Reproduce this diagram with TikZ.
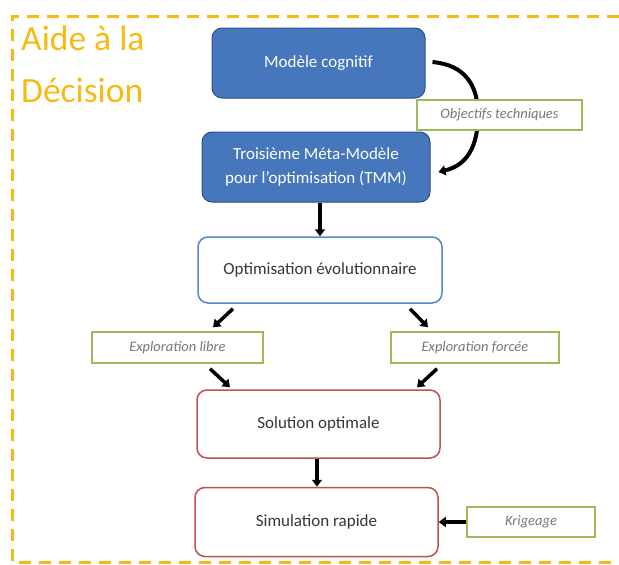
\documentclass[tikz,border=0pt]{standalone}
\usepackage{fontspec}
\setmainfont{Carlito}
\usetikzlibrary{arrows.meta}
\definecolor{orangeB}{RGB}{247,186,20}
\definecolor{blueF}{RGB}{70,118,188}
\definecolor{blueD}{RGB}{45,80,140}
\definecolor{blueL}{RGB}{84,134,204}
\definecolor{redB}{RGB}{192,80,77}
\definecolor{greenB}{RGB}{155,187,89}
\definecolor{txt}{RGB}{55,55,55}
\definecolor{itxt}{RGB}{120,120,120}
\tikzset{
  bluebox/.style={draw=blueD, line width=1pt, fill=blueF, rounded corners=10pt, text=white, align=center, font=\fontsize{17}{24}\selectfont, inner sep=0pt},
  optbox/.style={draw=blueL, line width=1.5pt, fill=white, rounded corners=10pt, text=txt, font=\fontsize{17}{24}\selectfont, inner sep=0pt},
  redbox/.style={draw=redB, line width=1.5pt, fill=white, rounded corners=10pt, text=txt, font=\fontsize{17}{24}\selectfont, inner sep=0pt},
  tagbox/.style={draw=greenB, line width=1.5pt, fill=white, text=itxt, font=\fontsize{14.5}{16}\selectfont\itshape, inner sep=0pt},
  arr/.style={line width=3.5pt, -{Triangle[width=10pt,length=7pt]}},
  title/.style={text=orangeB, font=\fontsize{35.5}{40}\selectfont, anchor=base west, inner sep=0pt}
}
\begin{document}
\begin{tikzpicture}[x=1pt,y=-1pt]
\useasboundingbox (0,0) rectangle (619,565);
\draw[orangeB, line width=3pt, dash pattern=on 12pt off 8pt] (619,16) -- (12,16) -- (12,562) -- (619,562);
\node[title] (t1) at (21,50) {Aide à la};
\node[title] (t2) at (21,102) {Décision};

\node[bluebox, minimum width=213pt, minimum height=70pt] (mc) at (318.5,63) {Modèle cognitif};
\node[bluebox, minimum width=228pt, minimum height=70pt] (tmm) at (316,167) {Troisième Méta-Modèle\\pour l’optimisation (TMM)};
\draw[arr, line width=4pt] ([shift={(7,-1)}]mc.east) .. controls (465,65) and (478,85) .. (478,115) .. controls (478,145) and (468,165) .. ([shift={(8,5)}]tmm.east);
\node[tagbox, minimum width=165pt, minimum height=30pt] (obj) at (499.5,115) {Objectifs techniques};

\node[optbox, minimum width=244pt, minimum height=66pt] (opt) at (320,270) {Optimisation évolutionnaire};
\node[tagbox, minimum width=171pt, minimum height=31pt] (el) at (177.5,347.5) {Exploration libre};
\node[tagbox, minimum width=168pt, minimum height=31pt] (ef) at (475,347.5) {Exploration forcée};
\node[redbox, minimum width=243pt, minimum height=68pt] (sol) at (318.5,424) {Solution optimale};
\node[redbox, minimum width=243pt, minimum height=69pt] (sim) at (316.5,522) {Simulation rapide};
\node[tagbox, minimum width=128pt, minimum height=30pt] (kr) at (531,522) {Krigeage};

\draw[arr] (opt.north |- tmm.south) -- (opt.north);
\draw[arr] ([shift={(-87,5)}]opt.south) -- ([shift={(35.5,-4)}]el.north);
\draw[arr] ([shift={(90,5)}]opt.south) -- ([shift={(-47,-4)}]ef.north);
\draw[arr] ([shift={(32.5,5)}]el.south) -- ([shift={(-88.5,-2)}]sol.north);
\draw[arr] ([shift={(-38,5)}]ef.south) -- ([shift={(98.5,-2)}]sol.north);
\draw[arr] ([xshift=-1.5pt]sol.south) -- ([xshift=0.5pt]sim.north);
\draw[arr] (kr.west) -- (sim.east);
\end{tikzpicture}
\end{document}
